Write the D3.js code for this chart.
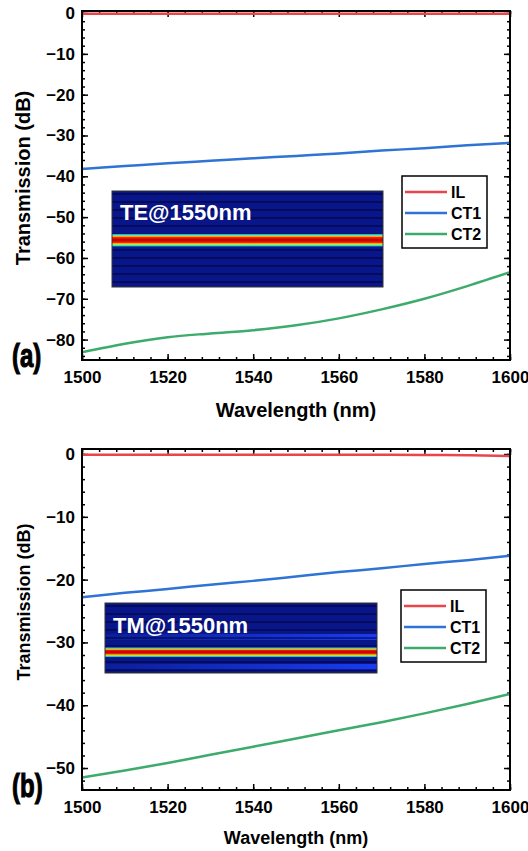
<!DOCTYPE html>
<html>
<head>
<meta charset="utf-8">
<script src="https://cdn.jsdelivr.net/npm/d3@7"></script>
<style>
  body { margin: 0; background: #fff; }
  svg text { font-family: "Liberation Sans", Arial, sans-serif; font-weight: bold; }
</style>
</head>
<body>
<div id="chart"></div>
<script>
// values
var wavelength = [1500, 1510, 1520, 1530, 1540, 1550, 1560, 1570, 1580, 1590, 1600];

var teIL  = [-0.2, -0.2, -0.2, -0.2, -0.2, -0.2, -0.2, -0.2, -0.2, -0.2, -0.2];
var teCT1 = [-38.2, -37.5, -36.8, -36.2, -35.6, -35.0, -34.4, -33.7, -33.1, -32.4, -31.8];
var teCT2 = [-83.1, -81.0, -79.4, -78.5, -77.7, -76.5, -74.8, -72.6, -70.0, -66.9, -63.5];

var tmIL  = [-0.1, -0.1, -0.1, -0.1, -0.1, -0.1, -0.1, -0.1, -0.15, -0.2, -0.3];
var tmCT1 = [-22.8, -22.1, -21.5, -20.8, -20.2, -19.5, -18.8, -18.2, -17.5, -16.9, -16.2];
var tmCT2 = [-51.5, -50.4, -49.2, -47.9, -46.6, -45.3, -44.0, -42.7, -41.3, -39.8, -38.2];

var xTicks = [1500, 1520, 1540, 1560, 1580, 1600];
var teYTicks = [0, -10, -20, -30, -40, -50, -60, -70, -80];
var tmYTicks = [0, -10, -20, -30, -40, -50];

var seriesNames = ["IL", "CT1", "CT2"];
var seriesColors = ["#e8464a", "#2f73d4", "#3dab6c"];

var svg = d3.select("#chart").append("svg")
	.attr("width", 528).attr("height", 851);

var defs = svg.append("defs");

function modeGradient(id, stops) {
	var g = defs.append("linearGradient").attr("id", id)
		.attr("x1", 0).attr("y1", 0).attr("x2", 0).attr("y2", 1);
	stops.forEach(function (s) {
		g.append("stop").attr("offset", s[0]).attr("stop-color", s[1]);
	});
}

modeGradient("modeTE", [
	[0, "#0a1a8c"], [0.08, "#00c8ff"], [0.2, "#ffe000"], [0.3, "#ff2000"],
	[0.5, "#b00000"], [0.7, "#ff2000"], [0.8, "#ffe000"], [0.9, "#40ff90"], [1, "#00a0ff"]
]);
modeGradient("modeTM", [
	[0, "#0a1a8c"], [0.1, "#00c8ff"], [0.22, "#ffe000"], [0.32, "#ff2000"],
	[0.5, "#b00000"], [0.68, "#ff2000"], [0.8, "#ffe000"], [0.9, "#40ff90"], [1, "#00a0ff"]
]);
var side = defs.append("linearGradient").attr("id", "sideTM")
	.attr("x1", 0).attr("y1", 0).attr("x2", 1).attr("y2", 0);
side.append("stop").attr("offset", 0).attr("stop-color", "#0a1f9a");
side.append("stop").attr("offset", 1).attr("stop-color", "#1a3cf0");

function drawInset(g, box) {
	var ins = g.append("g");
	ins.append("rect").attr("x", box.x).attr("y", box.y)
		.attr("width", box.w).attr("height", box.h).attr("fill", "#08168a");
	if (box.side) {
		box.side.forEach(function (yy) {
			ins.append("rect").attr("x", box.x).attr("y", yy - 3)
				.attr("width", box.w).attr("height", 6).attr("fill", "url(#sideTM)");
		});
	}
	var yy = box.y + 3;
	for (yy; yy < box.y + box.h; yy += 8) {
		ins.append("line").attr("x1", box.x).attr("x2", box.x + box.w)
			.attr("y1", yy).attr("y2", yy).attr("stroke", "#000030").attr("stroke-width", 1);
	}
	ins.append("rect").attr("x", box.x).attr("y", box.modeY - box.modeH / 2)
		.attr("width", box.w).attr("height", box.modeH).attr("fill", "url(#" + box.grad + ")");
	ins.append("rect").attr("x", box.x).attr("y", box.y)
		.attr("width", box.w).attr("height", box.h)
		.attr("fill", "none").attr("stroke", "#333").attr("stroke-width", 1);
	ins.append("text").attr("x", box.x + 8).attr("y", box.textY)
		.attr("fill", "#fff").attr("font-size", box.fs).text(box.label);
}

function drawPanel(p) {
	var g = svg.append("g");
	var x = d3.scaleLinear().domain([1500, 1600]).range([p.left, p.right]);
	var y = d3.scaleLinear().domain(p.yDomain).range([p.bottom, p.top]);

	drawInset(g, p.inset);

	// minor ticks
	var xMinor = d3.range(1500, 1601, 4);
	var yMinor = d3.range(0, p.yDomain[0] - 0.01, -2);

	g.append("g").attr("transform", "translate(0," + p.bottom + ")")
		.call(d3.axisBottom(x).tickValues(xMinor).tickSize(-3).tickFormat(""));
	g.append("g").attr("transform", "translate(0," + p.top + ")")
		.call(d3.axisTop(x).tickValues(xMinor).tickSize(-3).tickFormat(""));
	g.append("g").attr("transform", "translate(" + p.left + ",0)")
		.call(d3.axisLeft(y).tickValues(yMinor).tickSize(-3).tickFormat(""));
	g.append("g").attr("transform", "translate(" + p.right + ",0)")
		.call(d3.axisRight(y).tickValues(yMinor).tickSize(-3).tickFormat(""));

	var xAxis = g.append("g").attr("transform", "translate(0," + p.bottom + ")")
		.call(d3.axisBottom(x).tickValues(xTicks).tickSizeInner(-6).tickSizeOuter(0)
			.tickPadding(11).tickFormat(d3.format("d")));
	xAxis.selectAll("text").attr("font-size", 17).attr("fill", "#000");
	g.append("g").attr("transform", "translate(0," + p.top + ")")
		.call(d3.axisTop(x).tickValues(xTicks).tickSizeInner(-6).tickSizeOuter(0).tickFormat(""));

	var yAxis = g.append("g").attr("transform", "translate(" + p.left + ",0)")
		.call(d3.axisLeft(y).tickValues(p.yTicks).tickSizeInner(-6).tickSizeOuter(0)
			.tickPadding(7).tickFormat(d3.format("d")));
	yAxis.selectAll("text").attr("font-size", 17).attr("fill", "#000");
	g.append("g").attr("transform", "translate(" + p.right + ",0)")
		.call(d3.axisRight(y).tickValues(p.yTicks).tickSizeInner(-6).tickSizeOuter(0).tickFormat(""));

	g.selectAll(".domain").remove();
	g.selectAll(".tick line").attr("stroke", "#000").attr("stroke-width", 1.5);

	var line = d3.line().x(function (d, i) { return x(wavelength[i]); })
		.y(function (d) { return y(d); }).curve(d3.curveMonotoneX);
	p.series.forEach(function (s, i) {
		g.append("path").datum(s).attr("d", line).attr("fill", "none")
			.attr("stroke", seriesColors[i]).attr("stroke-width", 2.5);
	});

	g.append("rect").attr("x", p.left).attr("y", p.top)
		.attr("width", p.right - p.left).attr("height", p.bottom - p.top)
		.attr("fill", "none").attr("stroke", "#000").attr("stroke-width", 2);

	// legend
	var lg = g.append("g");
	lg.append("rect").attr("x", p.legend.x).attr("y", p.legend.y)
		.attr("width", 85).attr("height", 72).attr("fill", "#fff")
		.attr("stroke", "#000").attr("stroke-width", 1.5);
	seriesNames.forEach(function (n, i) {
		var ly = p.legend.y + 16 + i * 21;
		lg.append("line").attr("x1", p.legend.x + 3).attr("x2", p.legend.x + 45)
			.attr("y1", ly).attr("y2", ly).attr("stroke", seriesColors[i]).attr("stroke-width", 2.5);
		lg.append("text").attr("x", p.legend.x + 49).attr("y", ly + 6)
			.attr("font-size", 16).attr("fill", "#000").text(n);
	});

	g.append("text").attr("x", (p.left + p.right) / 2).attr("y", p.xTitleY)
		.attr("text-anchor", "middle").attr("font-size", p.titleFs).text("Wavelength (nm)");
	g.append("text").attr("transform", "translate(" + p.yTitleX + "," + p.yTitleY + ") rotate(-90)")
		.attr("text-anchor", "middle").attr("font-size", p.yTitleFs).text("Transmission (dB)");

	// panel tag in a heavy condensed face
	g.append("text").attr("transform", "translate(12," + p.tagY + ") scale(0.8,1.1)")
		.attr("font-family", "'DejaVu Sans Condensed', 'DejaVu Sans', sans-serif")
		.attr("font-size", 30).attr("font-weight", "bold")
		.attr("stroke", "#000").attr("stroke-width", 1)
		.text(p.tag);
}

drawPanel({
	left: 82, right: 510, top: 11, bottom: 360, yDomain: [-85, 0.5], yTicks: teYTicks,
	series: [teIL, teCT1, teCT2],
	legend: { x: 402, y: 176 },
	inset: { x: 112, y: 191, w: 271, h: 96, modeY: 240, modeH: 13, grad: "modeTE",
		textY: 220, fs: 22, label: "TE@1550nm" },
	xTitleY: 417, titleFs: 20, yTitleX: 30, yTitleY: 178, yTitleFs: 20,
	tag: "(a)", tagY: 367
});

drawPanel({
	left: 82, right: 510, top: 449, bottom: 790, yDomain: [-53.5, 0.8], yTicks: tmYTicks,
	series: [tmIL, tmCT1, tmCT2],
	legend: { x: 401, y: 590 },
	inset: { x: 105, y: 603, w: 272, h: 70, modeY: 652, modeH: 10, grad: "modeTM",
		side: [637, 667], textY: 633, fs: 22, label: "TM@1550nm" },
	xTitleY: 844, titleFs: 18, yTitleX: 30, yTitleY: 602, yTitleFs: 18,
	tag: "(b)", tagY: 797
});
</script>
</body>
</html>
